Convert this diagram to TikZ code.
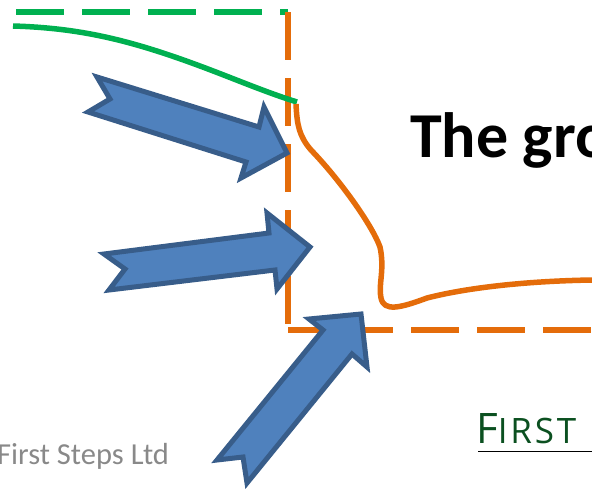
\documentclass[tikz,border=0pt]{standalone}
\usepackage{fontspec}
\setmainfont{Carlito}
\newfontfamily\logofont[LetterSpace=8]{Open Sans}
\usepackage{xcolor}
\usetikzlibrary{positioning}
\definecolor{FSGreen}{RGB}{0, 176, 80}
\definecolor{FSOrange}{RGB}{228, 108, 10}
\definecolor{FSBlue}{RGB}{79, 129, 189}
\definecolor{FSBorder}{RGB}{56, 93, 138}
\definecolor{FSMuted}{RGB}{137, 137, 137}
\definecolor{FSLogo}{RGB}{11, 80, 32}
\tikzset{
  limit/.style={line width=6pt, dash pattern=on 48pt off 18pt},
  trend/.style={line width=5.5pt, line join=round},
  push/.style={fill=FSBlue, draw=FSBorder, line width=5pt, miter limit=10}
}
\begin{document}
\begin{tikzpicture}[x=1pt,y=-1pt]
  \path[use as bounding box] (0,0) rectangle (592,488);
  \clip (0,0) rectangle (592,488);

  % Dashed limits
  \draw[limit, FSGreen] (16,12) -- (288,12);
  \draw[limit, FSOrange] (288,12) -- (288,324);
  \draw[limit, FSOrange, dash phase=9pt] (288,330) -- (592,330);

  % Growth curves
  \draw[trend, FSGreen] (13,26) .. controls (80,28) and (130,40) .. (200,66) .. controls (235,79) and (265,92) .. (297,102);
  \draw[trend, FSOrange] (296,104) .. controls (297,125) and (299,136) .. (311,150) .. controls (340,180) and (372,225) .. (380,247) .. controls (385,270) and (378,285) .. (381,298) .. controls (384,312) and (400,308) .. (427,298) .. controls (470,287) and (530,281) .. (592,280);

  % Three block arrows
  \draw[push] (97,77) -- (110,99) -- (88,112) -- (246,162) -- (241,178) -- (287,153) -- (264,107) -- (259,127) -- cycle;
  \draw[push] (104,254) -- (125,269) -- (109,290) -- (275,270) -- (277,289) -- (310,247) -- (267,213) -- (269,233) -- cycle;
  \draw[push] (309,319) -- (323,330) -- (217,460) -- (243,457) -- (247,483) -- (352,354) -- (367,367) -- (361,314) -- cycle;

  % Footer and title
  \node[anchor=base west, inner sep=0pt, text=FSMuted, font=\fontsize{30.5}{36}\selectfont] (footer) at (-3,464) {First Steps Ltd};
  \node[anchor=base west, inner sep=0pt, font=\fontsize{64}{76}\selectfont\bfseries] (title) at (410,157) {The gro};

  % Logo
  \node[anchor=base west, inner sep=0pt, text=FSLogo, font=\logofont\fontsize{42}{50}\selectfont] (logo) at (476,443) {F{\fontsize{35}{40}\selectfont IRST}};
  \draw[black, line width=1.5pt] (478,451.5) -- (592,451.5);
\end{tikzpicture}
\end{document}
